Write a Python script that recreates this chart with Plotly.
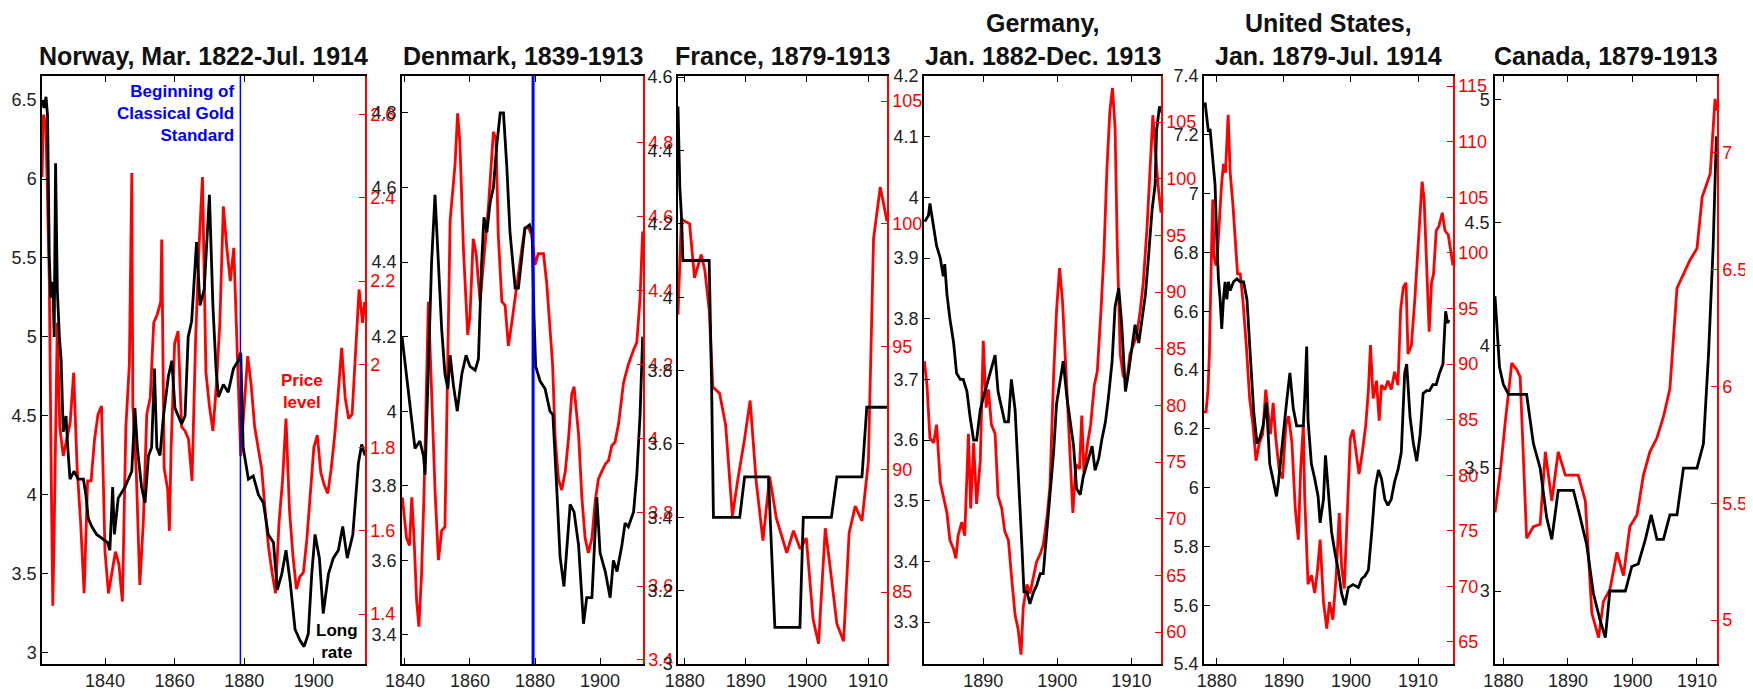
import plotly.graph_objects as go

# ------------------------------------------------------------------ data
# Norway, long rate (black, left axis) and price level (red, right axis)
NOR_LONG_YEARS = [1821.9, 1822.5, 1823.05, 1823.5, 1824.0, 1824.4, 1825.0, 1825.4, 1825.8, 1826.3,
                  1826.9, 1827.4, 1828.0, 1828.8, 1829.3, 1829.95, 1831.1, 1832.3, 1833.8, 1834.5,
                  1835.2, 1836.2, 1837.6, 1839.5, 1840.7, 1841.4, 1842.2, 1842.7, 1843.8, 1845.75,
                  1847.7, 1848.6, 1849.3, 1850.5, 1851.5, 1852.5, 1853.4, 1854.2, 1854.9, 1855.8,
                  1856.8, 1858.2, 1859.2, 1860.1, 1862.0, 1863.0, 1863.9, 1864.9, 1866.3, 1867.3,
                  1868.5, 1870.0, 1871.0, 1871.9, 1872.6, 1874.0, 1875.4, 1876.9, 1878.3, 1879.0,
                  1879.7, 1881.2, 1882.6, 1884.1, 1885.5, 1886.9, 1888.4, 1889.5, 1890.8, 1892.0,
                  1893.2, 1894.6, 1896.0, 1897.2, 1898.4, 1899.4, 1900.35, 1901.6, 1902.7, 1904.2,
                  1905.6, 1907.05, 1908.3, 1909.6, 1911.2, 1912.8, 1913.75, 1914.7]
NOR_LONG = [6.50, 6.45, 6.52, 6.40, 5.5, 5.25, 5.35, 5.0, 6.1, 5.3,
            5.0, 4.85, 4.4, 4.5, 4.3, 4.1, 4.15, 4.1, 4.1, 4.0,
            3.85, 3.8, 3.75, 3.72, 3.7, 3.65, 4.05, 3.75, 3.98, 4.05,
            4.15, 4.55, 4.3, 4.05, 3.95, 4.25, 4.3, 4.8, 4.3, 4.25,
            4.5, 4.75, 4.85, 4.55, 4.45, 4.5, 5.0, 5.1, 5.6, 5.2,
            5.3, 5.9, 5.2, 4.8, 4.62, 4.7, 4.65, 4.8, 4.85, 4.9,
            4.3, 4.1, 4.12, 4.0, 3.95, 3.75, 3.7, 3.4, 3.5, 3.65,
            3.45, 3.15, 3.08, 3.04, 3.12, 3.5, 3.75, 3.6, 3.25, 3.5,
            3.6, 3.65, 3.8, 3.6, 3.75, 4.2, 4.32, 4.25]
NOR_PRICE = [(1821.9, 2.45), (1822.3, 2.60), (1823.0, 2.58), (1824.0, 2.20), (1824.6, 1.70),
             (1825.0, 1.42), (1825.4, 1.60), (1826.3, 2.10), (1827.0, 1.85), (1828.0, 1.78),
             (1829.0, 1.82), (1830.0, 1.86), (1831.0, 1.98), (1832.0, 1.75), (1833.0, 1.62),
             (1834.0, 1.45), (1835.0, 1.72), (1836.0, 1.72), (1837.0, 1.82), (1838.0, 1.88),
             (1839.0, 1.90), (1840.0, 1.55), (1841.0, 1.45), (1842.0, 1.50), (1843.0, 1.55),
             (1844.0, 1.52), (1845.0, 1.43), (1846.0, 1.85), (1847.0, 2.00), (1847.7, 2.46),
             (1848.0, 1.90), (1849.0, 1.74), (1850.0, 1.47), (1851.0, 1.62), (1852.0, 1.88),
             (1853.0, 1.92), (1854.0, 2.10), (1855.0, 2.12), (1856.0, 2.15), (1856.3, 2.30),
             (1857.0, 1.75), (1858.0, 1.70), (1858.5, 1.60), (1859.0, 1.80), (1860.0, 2.05),
             (1861.0, 2.08), (1862.0, 1.85), (1863.0, 1.84), (1864.0, 1.82), (1865.0, 1.72),
             (1866.0, 2.05), (1867.0, 2.28), (1868.0, 2.45), (1869.0, 1.98), (1870.0, 1.90),
             (1871.0, 1.84), (1872.0, 1.95), (1873.0, 2.10), (1874.0, 2.38), (1875.0, 2.28),
             (1876.0, 2.20), (1877.0, 2.28), (1878.0, 2.00), (1879.0, 1.78), (1880.0, 1.90),
             (1881.0, 2.02), (1882.0, 1.95), (1883.0, 1.85), (1884.0, 1.80), (1885.0, 1.75),
             (1886.0, 1.65), (1887.0, 1.56), (1888.0, 1.50), (1889.0, 1.45), (1890.0, 1.62),
             (1891.0, 1.72), (1892.0, 1.87), (1893.0, 1.65), (1894.0, 1.54), (1895.0, 1.46),
             (1896.0, 1.49), (1897.0, 1.50), (1898.0, 1.58), (1899.0, 1.70), (1900.0, 1.80),
             (1901.0, 1.83), (1902.0, 1.74), (1903.0, 1.71), (1904.0, 1.69), (1905.0, 1.75),
             (1906.0, 1.83), (1907.0, 1.93), (1908.0, 2.04), (1909.0, 1.92), (1910.0, 1.87),
             (1911.0, 1.88), (1912.0, 2.02), (1913.0, 2.18), (1914.0, 2.10), (1914.6, 2.15)]

# Denmark
DEN_LONG_YEARS = [1839.1, 1840.5, 1841.6, 1843.1, 1844.6, 1845.7, 1846.2, 1847.2, 1848.2, 1849.25,
                  1850.3, 1851.3, 1852.3, 1853.2, 1853.9, 1854.9, 1856.1, 1857.5, 1858.8, 1860.0,
                  1861.6, 1862.6, 1863.6, 1864.3, 1865.2, 1866.2, 1867.2, 1868.2, 1869.3, 1870.3,
                  1871.3, 1872.3, 1873.9, 1874.9, 1875.9, 1876.9, 1878.3, 1879.1, 1879.7, 1880.2,
                  1881.6, 1883.1, 1884.6, 1885.5, 1886.7, 1887.7, 1888.9, 1890.0, 1890.8, 1892.0,
                  1893.4, 1894.9, 1895.9, 1897.5, 1899.0, 1900.0, 1901.6, 1903.1, 1904.1, 1905.2,
                  1906.7, 1907.7, 1908.7, 1910.3, 1911.3, 1912.3, 1913.1]
DEN_LONG = [4.20, 4.10, 4.01, 3.90, 3.92, 3.88, 3.83, 4.10, 4.40, 4.58,
            4.40, 4.22, 4.10, 4.06, 4.15, 4.07, 4.00, 4.10, 4.15, 4.12,
            4.11, 4.14, 4.40, 4.52, 4.48, 4.56, 4.60, 4.71, 4.80, 4.80,
            4.66, 4.48, 4.33, 4.33, 4.41, 4.49, 4.50, 4.48, 4.25, 4.12,
            4.08, 4.06, 4.00, 3.99, 3.79, 3.61, 3.53, 3.65, 3.75, 3.73,
            3.64, 3.43, 3.50, 3.50, 3.77, 3.62, 3.57, 3.50, 3.60, 3.57,
            3.64, 3.70, 3.69, 3.73, 3.83, 3.99, 4.20]
DEN_PRICE_YEARS = [1839.2, 1840.5, 1841.4, 1842.1, 1842.8, 1843.6, 1844.3, 1845.1, 1845.9, 1846.5,
                   1847.2, 1847.7, 1848.4, 1849.3, 1850.3, 1851.3, 1852.3, 1853.0, 1853.9, 1855.4,
                   1856.2, 1856.9, 1858.0, 1859.3, 1860.0, 1861.0, 1861.9, 1863.1, 1864.1, 1865.7,
                   1867.2, 1868.0, 1868.7, 1869.8, 1870.8, 1871.8, 1872.8, 1874.4, 1875.9, 1876.9,
                   1878.0, 1879.0, 1880.0, 1881.0, 1882.6, 1883.6, 1884.6, 1885.4, 1886.2, 1887.2,
                   1888.2, 1889.3, 1890.3, 1891.3, 1892.0, 1893.4, 1894.4, 1895.4, 1896.4, 1897.5,
                   1898.5, 1899.5, 1900.5, 1901.6, 1902.6, 1903.6, 1904.6, 1905.7, 1907.2, 1908.7,
                   1910.3, 1911.3, 1912.3, 1913.1]
DEN_PRICE = [3.84, 3.73, 3.71, 3.84, 3.73, 3.56, 3.49, 3.63, 3.86, 4.10,
             4.37, 4.25, 4.05, 3.85, 3.67, 3.75, 3.76, 4.18, 4.59, 4.74,
             4.88, 4.80, 4.51, 4.28, 4.33, 4.54, 4.50, 4.37, 4.47, 4.63,
             4.83, 4.81, 4.55, 4.37, 4.36, 4.25, 4.31, 4.42, 4.51, 4.57,
             4.57, 4.55, 4.47, 4.50, 4.50, 4.42, 4.29, 4.20, 4.00, 3.89,
             3.86, 3.91, 4.00, 4.12, 4.14, 4.01, 3.84, 3.73, 3.69, 3.73,
             3.83, 3.89, 3.91, 3.93, 3.94, 3.98, 3.99, 4.04, 4.15, 4.20,
             4.24, 4.26, 4.38, 4.56]

# France
FRA_LONG = [(1878.9, 4.52), (1879.2, 4.30), (1879.5, 4.21), (1879.7, 4.10), (1884.0, 4.10),
            (1884.4, 3.76), (1884.7, 3.40), (1889.0, 3.40), (1889.8, 3.51), (1893.7, 3.51),
            (1894.75, 3.10), (1898.85, 3.10), (1899.4, 3.40), (1904.0, 3.40), (1904.9, 3.51),
            (1909.0, 3.51), (1909.8, 3.70), (1913.1, 3.70)]
FRA_PRICE_YEARS = [1878.9, 1879.45, 1880.0, 1880.8, 1881.6, 1882.2, 1882.7, 1883.3, 1884.0, 1884.6,
                   1885.7, 1886.7, 1887.8, 1888.7, 1889.8, 1890.7, 1891.7, 1892.8, 1893.9, 1895.0,
                   1896.7, 1897.8, 1898.9, 1899.9, 1901.0, 1901.9, 1903.0, 1903.8, 1904.9, 1906.0,
                   1906.9, 1907.9, 1909.0, 1910.05, 1910.9, 1912.0, 1913.1]
FRA_PRICE = [96.3, 100.2, 100.1, 100.0, 97.8, 98.3, 98.75, 98.1, 96.5, 93.35,
             93.1, 91.8, 88.1, 89.6, 91.25, 92.8, 89.5, 87.1, 89.7, 88.0,
             86.6, 87.5, 86.75, 87.2, 83.9, 82.9, 87.6, 86.0, 83.7, 83.0,
             87.4, 88.5, 87.9, 90.3, 99.4, 101.5, 100.1]

# Germany
GER_LONG_YEARS = [1882.1, 1882.6, 1882.8, 1883.3, 1883.7, 1884.2, 1884.6, 1884.8, 1885.1, 1885.5,
                  1886.0, 1886.4, 1886.9, 1887.3, 1887.8, 1888.2, 1888.7, 1889.1, 1889.6, 1890.0,
                  1890.7, 1891.1, 1891.6, 1892.0, 1892.5, 1892.9, 1893.4, 1893.8, 1894.3, 1894.7,
                  1895.2, 1895.5, 1895.9, 1896.3, 1896.8, 1897.2, 1897.7, 1898.1, 1898.6, 1899.0,
                  1899.5, 1899.9, 1900.4, 1900.8, 1901.3, 1901.7, 1902.2, 1902.6, 1903.1, 1903.5,
                  1904.0, 1904.7, 1905.1, 1905.6, 1906.0, 1906.5, 1906.9, 1907.4, 1907.8, 1908.3,
                  1908.7, 1909.2, 1909.6, 1910.1, 1910.5, 1911.0, 1911.4, 1911.9, 1912.3, 1912.8,
                  1913.2, 1913.4, 1913.8, 1914.0]
GER_LONG = [3.96, 3.97, 3.99, 3.95, 3.92, 3.90, 3.87, 3.89, 3.84, 3.80,
            3.76, 3.71, 3.70, 3.70, 3.68, 3.64, 3.60, 3.60, 3.65, 3.67,
            3.70, 3.72, 3.74, 3.68, 3.65, 3.63, 3.63, 3.70, 3.65, 3.54,
            3.43, 3.35, 3.35, 3.33, 3.35, 3.36, 3.38, 3.38, 3.45, 3.50,
            3.58, 3.66, 3.70, 3.73, 3.67, 3.63, 3.59, 3.52, 3.51, 3.54,
            3.56, 3.59, 3.55, 3.57, 3.60, 3.63, 3.67, 3.73, 3.82, 3.85,
            3.79, 3.68, 3.71, 3.76, 3.79, 3.76, 3.80, 3.84, 3.90, 3.98,
            4.02, 4.11, 4.15, 4.14]
GER_PRICE_YEARS = [1882.05, 1882.4, 1882.8, 1883.3, 1883.7, 1884.2, 1884.6, 1885.1, 1885.5, 1886.0,
                   1886.3, 1886.6, 1887.1, 1887.5, 1888.0, 1888.3, 1888.7, 1889.1, 1889.6, 1890.0,
                   1890.4, 1890.7, 1891.1, 1891.6, 1892.0, 1892.5, 1892.9, 1893.4, 1893.8, 1894.3,
                   1894.7, 1895.1, 1895.4, 1895.9, 1896.3, 1896.8, 1897.2, 1897.7, 1898.1, 1898.6,
                   1899.0, 1899.5, 1899.9, 1900.3, 1900.7, 1901.2, 1901.6, 1902.1, 1902.5, 1903.0,
                   1903.3, 1903.6, 1904.1, 1904.5, 1905.0, 1905.4, 1905.9, 1906.3, 1906.7, 1907.1,
                   1907.45, 1907.8, 1908.1, 1908.5, 1908.9, 1909.4, 1909.8, 1910.3, 1910.7, 1911.2,
                   1911.6, 1912.1, 1912.5, 1912.9, 1913.2, 1913.6, 1914.0]
GER_PRICE = [83.9, 81.8, 77.1, 76.7, 78.3, 73.2, 72.0, 70.5, 68.1, 67.3,
             66.5, 68.5, 69.7, 68.5, 77.5, 70.9, 76.7, 71.3, 75.1, 85.7,
             79.8, 81.4, 78.3, 77.5, 72.0, 70.9, 68.9, 68.1, 65.0, 61.5,
             60.3, 58.0, 62.2, 64.2, 63.4, 65.0, 66.2, 66.9, 67.7, 70.1,
             72.8, 82.6, 88.4, 92.1, 89.2, 82.6, 76.7, 70.5, 74.8, 74.4,
             79.1, 74.0, 76.7, 78.3, 81.8, 83.0, 88.4, 93.5, 100.9, 106.0,
             108.0, 104.5, 93.9, 84.5, 82.6, 82.2, 84.5, 85.3, 86.1, 88.4,
             90.8, 95.5, 100.9, 105.6, 102.9, 99.4, 97.0]

# United States
US_LONG = [(1878.26, 7.31), (1878.5, 7.25), (1878.76, 7.21), (1879.0, 7.22), (1879.26, 7.16),
           (1879.5, 7.09), (1879.75, 7.03), (1880.0, 6.85), (1880.25, 6.71), (1880.5, 6.64),
           (1880.74, 6.54), (1881.0, 6.64), (1881.24, 6.70), (1881.5, 6.64), (1881.74, 6.70),
           (1882.0, 6.67), (1882.5, 6.70), (1883.0, 6.71), (1883.5, 6.70), (1884.0, 6.70),
           (1884.5, 6.64), (1885.0, 6.45), (1885.5, 6.26), (1886.0, 6.15), (1886.45, 6.17),
           (1886.9, 6.21), (1887.4, 6.29), (1887.9, 6.08), (1888.4, 6.03), (1888.9, 5.97),
           (1889.2, 6.02), (1889.7, 6.14), (1890.4, 6.29), (1890.9, 6.39), (1891.4, 6.27),
           (1891.9, 6.21), (1892.4, 6.21), (1892.9, 6.21), (1893.1, 6.30), (1893.4, 6.48),
           (1893.6, 6.23), (1894.1, 6.08), (1894.6, 6.03), (1895.1, 5.97), (1895.4, 5.88),
           (1895.9, 5.96), (1896.2, 6.11), (1896.6, 5.99), (1897.1, 5.85), (1897.6, 5.78),
           (1898.1, 5.72), (1898.6, 5.64), (1899.1, 5.60), (1899.6, 5.66), (1900.3, 5.67),
           (1901.1, 5.66), (1901.6, 5.69), (1902.1, 5.70), (1902.6, 5.72), (1903.1, 5.85),
           (1903.6, 6.00), (1904.1, 6.06), (1904.55, 6.03), (1905.05, 5.96), (1905.5, 5.94),
           (1906.0, 5.96), (1906.5, 6.02), (1907.0, 6.06), (1907.5, 6.12), (1908.0, 6.39),
           (1908.3, 6.42), (1908.8, 6.24), (1909.3, 6.15), (1909.8, 6.09), (1910.3, 6.18),
           (1910.75, 6.32), (1911.25, 6.33), (1911.7, 6.33), (1912.2, 6.35), (1912.7, 6.35),
           (1913.2, 6.39), (1913.7, 6.42), (1914.1, 6.60), (1914.4, 6.56), (1914.6, 6.57)]
US_PRICE = [(1878.1, 85.7), (1878.4, 85.7), (1878.7, 87.7), (1878.9, 90.9), (1879.2, 99.65),
            (1879.4, 104.8), (1879.6, 99.65), (1879.9, 98.85), (1880.15, 100.4), (1880.4, 103.6),
            (1880.7, 106.0), (1881.0, 108.0), (1881.3, 107.2), (1881.7, 112.4), (1882.0, 107.2),
            (1882.4, 104.4), (1882.7, 102.0), (1883.1, 98.1), (1883.5, 98.1), (1883.9, 95.7),
            (1884.4, 91.7), (1884.9, 86.9), (1885.4, 84.5), (1885.85, 81.3), (1886.35, 82.9),
            (1886.85, 83.7), (1887.3, 87.7), (1887.7, 85.7), (1888.0, 83.7), (1888.4, 86.5),
            (1888.8, 83.3), (1889.3, 80.5), (1889.8, 79.7), (1890.3, 84.5), (1890.7, 85.3),
            (1891.2, 82.9), (1891.7, 77.0), (1892.15, 74.2), (1892.5, 80.5), (1892.9, 84.5),
            (1893.1, 78.1), (1893.6, 70.2), (1894.1, 71.0), (1894.6, 69.4), (1895.0, 71.4),
            (1895.4, 74.2), (1895.9, 68.6), (1896.4, 66.2), (1896.8, 68.6), (1897.3, 67.0),
            (1897.8, 71.0), (1898.25, 76.6), (1898.6, 71.8), (1899.0, 69.8), (1899.5, 77.8),
            (1899.9, 83.3), (1900.3, 84.1), (1900.7, 82.1), (1901.2, 80.1), (1901.7, 82.1),
            (1902.2, 84.5), (1902.6, 87.7), (1902.9, 91.7), (1903.3, 86.9), (1903.8, 88.5),
            (1904.2, 84.9), (1904.55, 88.1), (1905.05, 87.7), (1905.5, 88.5), (1906.0, 87.7),
            (1906.5, 89.3), (1907.0, 88.1), (1907.4, 94.9), (1907.8, 96.9), (1908.2, 97.3),
            (1908.5, 90.9), (1909.0, 91.7), (1909.5, 95.7), (1909.9, 99.65), (1910.3, 102.8),
            (1910.6, 106.4), (1910.9, 104.8), (1911.25, 98.85), (1911.65, 92.9), (1912.0, 97.3),
            (1912.3, 98.1), (1912.7, 102.0), (1913.1, 102.4), (1913.6, 103.6), (1914.0, 102.0),
            (1914.5, 101.6), (1914.9, 100.0), (1915.2, 98.85)]

# Canada
CAN_LONG = [(1878.7, 4.20), (1879.4, 3.91), (1880.0, 3.84), (1880.8, 3.80), (1881.55, 3.80),
            (1882.6, 3.80), (1883.6, 3.80), (1884.65, 3.60), (1885.7, 3.50), (1886.7, 3.30),
            (1887.5, 3.21), (1888.5, 3.41), (1889.6, 3.41), (1890.85, 3.41), (1891.9, 3.30),
            (1892.9, 3.19), (1893.95, 2.99), (1895.0, 2.88), (1895.8, 2.81), (1896.5, 3.00),
            (1897.6, 3.00), (1898.9, 3.00), (1899.9, 3.10), (1900.9, 3.11), (1902.0, 3.21),
            (1902.9, 3.31), (1903.8, 3.21), (1904.8, 3.21), (1905.8, 3.31), (1906.9, 3.31),
            (1907.9, 3.50), (1908.9, 3.50), (1910.0, 3.50), (1911.0, 3.60), (1911.8, 3.97),
            (1912.5, 4.40), (1913.0, 4.85), (1913.1, 4.83)]
CAN_PRICE = [(1878.7, 5.46), (1879.5, 5.63), (1880.3, 5.85), (1881.3, 6.10), (1882.1, 6.07),
             (1882.6, 6.04), (1883.6, 5.35), (1884.65, 5.40), (1885.7, 5.41), (1886.5, 5.72),
             (1887.5, 5.51), (1888.5, 5.72), (1889.6, 5.62), (1890.6, 5.62), (1891.6, 5.62),
             (1892.7, 5.51), (1893.7, 5.03), (1894.75, 4.925), (1895.5, 5.08), (1896.5, 5.13),
             (1897.6, 5.29), (1898.6, 5.19), (1899.6, 5.40), (1900.7, 5.45), (1901.7, 5.62),
             (1902.7, 5.72), (1903.8, 5.78), (1904.8, 5.87), (1905.8, 5.99), (1906.9, 6.42),
             (1907.9, 6.48), (1908.9, 6.54), (1910.0, 6.59), (1910.8, 6.81), (1912.05, 6.91),
             (1912.8, 7.23), (1913.1, 7.18)]

TITLES = [["Norway, Mar. 1822-Jul. 1914"], ["Denmark, 1839-1913"], ["France, 1879-1913"],
          ["Germany,", "Jan. 1882-Dec. 1913"], ["United States,", "Jan. 1879-Jul. 1914"],
          ["Canada, 1879-1913"]]
X_TICKS = [[1840, 1860, 1880, 1900], [1840, 1860, 1880, 1900], [1880, 1890, 1900, 1910],
           [1890, 1900, 1910], [1880, 1890, 1900, 1910], [1880, 1890, 1900, 1910]]
GOLD_STANDARD_YEAR_NOR = 1878.9
GOLD_STANDARD_YEAR_DEN = 1879.4


def split(pairs):
    return [p[0] for p in pairs], [p[1] for p in pairs]


SERIES = [
    ((NOR_LONG_YEARS, NOR_LONG), split(NOR_PRICE)),
    ((DEN_LONG_YEARS, DEN_LONG), (DEN_PRICE_YEARS, DEN_PRICE)),
    (split(FRA_LONG), (FRA_PRICE_YEARS, FRA_PRICE)),
    ((GER_LONG_YEARS, GER_LONG), (GER_PRICE_YEARS, GER_PRICE)),
    (split(US_LONG), split(US_PRICE)),
    (split(CAN_LONG), split(CAN_PRICE)),
]

# ------------------------------------------------------------------ layout
PAGE_W, PAGE_H = 1753, 693
OFF = 8                      # default page (body) margin in front of the figure
W, H = PAGE_W - OFF, PAGE_H - OFF
TOP_PX, BOT_PX = 76, 664     # page pixel rows of the plot boxes
PANEL_PX = [(42, 365), (402, 643), (678, 887), (924, 1161), (1204, 1453), (1495, 1717)]
X_RANGE = [(1821.9, 1914.7), (1839.1, 1913.2), (1878.9, 1913.1),
           (1882.0, 1914.0), (1878.1, 1915.2), (1878.7, 1913.1)]
LEFT_RANGE = [(2.930, 6.652), (3.322, 4.899), (3.0, 4.603),
              (3.231, 4.2), (5.4, 7.4), (2.703, 5.096)]
LEFT_DTICK = [0.5, 0.2, 0.2, 0.1, 0.2, 0.5]
RIGHT_RANGE = [(1.280, 2.693), (3.389, 4.981), (82.07, 106.02),
               (57.18, 109.06), (63.02, 115.9), (4.812, 7.328)]
RIGHT_DTICK = [0.2, 0.2, 5, 5, 5, 0.5]

FONT = "Liberation Sans, Arial, Helvetica, sans-serif"
RED = "#ff0000"
BLACK = "#000000"
BLUE = "#0000ff"
TICKFONT = 18
LINE_W = 2.8


def px_x(p):
    return (p - OFF) / W


def px_y(p):
    return 1 - (p - OFF) / H


ydom = [px_y(BOT_PX), px_y(TOP_PX)]

fig = go.Figure()
layout = dict(width=W, height=H, margin=dict(l=0, r=0, t=0, b=0, autoexpand=False),
              paper_bgcolor="white", plot_bgcolor="white", showlegend=False,
              font=dict(family=FONT, color=BLACK))
annotations = []
shapes = []

for i in range(6):
    n = i + 1
    xk = "xaxis" if n == 1 else f"xaxis{n}"
    xr = "x" if n == 1 else f"x{n}"
    bn, on = 2 * n - 1, 2 * n
    bk = "yaxis" if bn == 1 else f"yaxis{bn}"
    br = "y" if bn == 1 else f"y{bn}"
    ok = f"yaxis{on}"
    orf = f"y{on}"
    l, r = PANEL_PX[i]

    layout[xk] = dict(domain=[px_x(l), px_x(r)], anchor=br, range=list(X_RANGE[i]),
                      tickmode="array", tickvals=X_TICKS[i], ticks="inside", ticklen=6,
                      tickwidth=1.2, tickcolor=BLACK, showline=True, linecolor=BLACK,
                      linewidth=1.5, mirror="ticks", showgrid=False, zeroline=False,
                      automargin=False,
                      tickfont=dict(family=FONT, size=TICKFONT, color="#222"))
    layout[bk] = dict(domain=ydom, anchor=xr, side="right", range=list(RIGHT_RANGE[i]),
                      tickmode="linear", tick0=0, dtick=RIGHT_DTICK[i], ticks="inside",
                      ticklen=6, tickwidth=1.2, tickcolor=RED, showline=True, linecolor=RED,
                      linewidth=1.5, showgrid=False, zeroline=False, automargin=False,
                      tickfont=dict(family=FONT, size=TICKFONT, color=RED))
    layout[ok] = dict(overlaying=br, anchor=xr, side="left", range=list(LEFT_RANGE[i]),
                      tickmode="linear", tick0=0, dtick=LEFT_DTICK[i], ticks="inside",
                      ticklen=6, tickwidth=1.2, tickcolor=BLACK, showline=True, linecolor=BLACK,
                      linewidth=1.5, showgrid=False, zeroline=False, automargin=False,
                      tickfont=dict(family=FONT, size=TICKFONT, color="#222"))

    (lx, ly), (px, py) = SERIES[i]
    fig.add_trace(go.Scatter(x=px, y=py, mode="lines", line=dict(color=RED, width=LINE_W),
                             xaxis=xr, yaxis=br, hoverinfo="skip"))
    fig.add_trace(go.Scatter(x=lx, y=ly, mode="lines", line=dict(color=BLACK, width=LINE_W),
                             xaxis=xr, yaxis=orf, hoverinfo="skip"))

    cx = px_x((l + r) / 2)
    lines = TITLES[i]
    ys = [56] if len(lines) == 1 else [23, 56]
    for txt, ypx in zip(lines, ys):
        annotations.append(dict(text=f"<b>{txt}</b>", xref="paper", yref="paper",
                                x=cx, y=px_y(ypx), xanchor="center", yanchor="middle",
                                showarrow=False, font=dict(family=FONT, size=25, color="#111")))

shapes.append(dict(type="line", xref="x", yref="y domain", x0=GOLD_STANDARD_YEAR_NOR,
                   x1=GOLD_STANDARD_YEAR_NOR, y0=0, y1=1, layer="above",
                   line=dict(color=BLUE, width=1.5)))
shapes.append(dict(type="line", xref="x2", yref="y3 domain", x0=GOLD_STANDARD_YEAR_DEN,
                   x1=GOLD_STANDARD_YEAR_DEN, y0=0, y1=1, layer="above",
                   line=dict(color=BLUE, width=3)))

annotations.append(dict(text="<b>Beginning of<br>Classical Gold<br>Standard</b>",
                        xref="paper", yref="paper", x=px_x(237), y=px_y(114),
                        xanchor="right", yanchor="middle", align="right", showarrow=False,
                        font=dict(family=FONT, size=17, color=BLUE)))
annotations.append(dict(text="<b>Price<br>level</b>", xref="paper", yref="paper",
                        x=px_x(302), y=px_y(391), xanchor="center", yanchor="middle",
                        align="center", showarrow=False,
                        font=dict(family=FONT, size=17, color=RED)))
annotations.append(dict(text="<b>Long<br>rate</b>", xref="paper", yref="paper",
                        x=px_x(337), y=px_y(641), xanchor="center", yanchor="middle",
                        align="center", showarrow=False,
                        font=dict(family=FONT, size=17, color=BLACK)))

layout["annotations"] = annotations
layout["shapes"] = shapes
fig.update_layout(**layout)
fig.write_html("out.html")
